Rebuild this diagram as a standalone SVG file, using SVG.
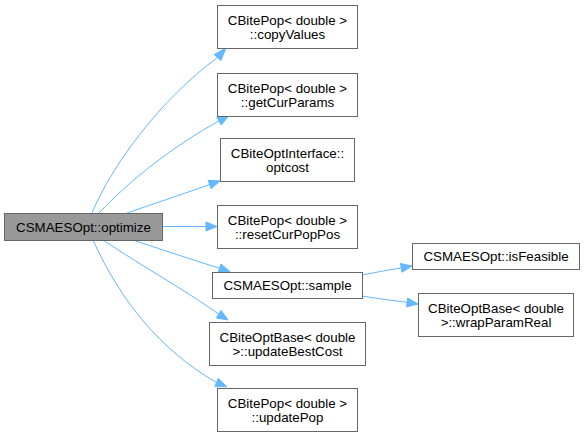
<svg xmlns="http://www.w3.org/2000/svg" width="585" height="437" viewBox="0 0 585 437">
<style>
.n rect{fill:#ffffff;stroke:#666666;stroke-width:1}
.n.main rect{fill:#999999}
text{font-family:"Liberation Sans",Arial,sans-serif;font-size:13.33px;fill:#000000;text-anchor:middle}
.e path{fill:none;stroke:#63b8ff;stroke-width:1}
.e polygon{fill:#63b8ff;stroke:#63b8ff;stroke-width:1}
</style>
<rect width="585" height="437" fill="#ffffff"/>
<g class="e" id="edges">
<path d="M92,213 C112,165 160,100 217.5,57.5"/>
<polygon points="226,48 214.2,54.5 220.9,60.5"/>
<path d="M99,213 C130,180 175,145 219,121"/>
<polygon points="229,115.5 216.8,117 221.2,125"/>
<path d="M127,213 C150,205 180,195 209.6,184.6"/>
<polygon points="220,181 208.1,180.3 211.1,188.8"/>
<path d="M162,226.5 L206,226.5"/>
<polygon points="217,226.5 206,222 206,231"/>
<path d="M133,240 C160,249 190,259 219.5,268.3"/>
<polygon points="230,271.7 220.9,264 218.1,272.6"/>
<path d="M103,240 C140,265 185,290 218.7,314.1"/>
<polygon points="228,320 221.1,310.3 216.3,317.9"/>
<path d="M93,240 C120,300 160,350 216.5,382.5"/>
<polygon points="226.7,386.7 218.2,378.3 214.8,386.7"/>
<path d="M362,275 C375,272.5 388,270 401.2,267.9"/>
<polygon points="412,266 400.4,263.5 402,272.3"/>
<path d="M362,296 C377,298.5 392,300.5 407.1,302.4"/>
<polygon points="418,304 407.7,298 406.5,306.9"/>
</g>
<g class="n main" id="optimize">
<rect x="4.5" y="213.5" width="158" height="27"/>
<text x="83.5" y="231.5">CSMAESOpt::optimize</text>
</g>
<g class="n" id="copyValues">
<rect x="217.5" y="5.5" width="140" height="43"/>
<text x="287.5" y="25">CBitePop&lt; double &gt;</text>
<text x="287.5" y="39">::copyValues</text>
</g>
<g class="n" id="getCurParams">
<rect x="217.5" y="73.5" width="140" height="43"/>
<text x="287.5" y="93">CBitePop&lt; double &gt;</text>
<text x="287.5" y="107">::getCurParams</text>
</g>
<g class="n" id="optcost">
<rect x="220.5" y="138.5" width="134" height="43"/>
<text x="287.5" y="158">CBiteOptInterface::</text>
<text x="287.5" y="172">optcost</text>
</g>
<g class="n" id="resetCurPopPos">
<rect x="217.5" y="205.5" width="140" height="43"/>
<text x="287.5" y="225">CBitePop&lt; double &gt;</text>
<text x="287.5" y="239">::resetCurPopPos</text>
</g>
<g class="n" id="sample">
<rect x="212.5" y="272.5" width="150" height="26"/>
<text x="287.5" y="290">CSMAESOpt::sample</text>
</g>
<g class="n" id="updateBestCost">
<rect x="209.5" y="322.5" width="156" height="43"/>
<text x="287.5" y="342">CBiteOptBase&lt; double</text>
<text x="287.5" y="356">&gt;::updateBestCost</text>
</g>
<g class="n" id="updatePop">
<rect x="217.5" y="388.5" width="140" height="43"/>
<text x="287.5" y="408">CBitePop&lt; double &gt;</text>
<text x="287.5" y="422">::updatePop</text>
</g>
<g class="n" id="isFeasible">
<rect x="412.5" y="243.5" width="167" height="26"/>
<text x="496" y="261">CSMAESOpt::isFeasible</text>
</g>
<g class="n" id="wrapParamReal">
<rect x="418.5" y="293.5" width="155" height="43"/>
<text x="496" y="313">CBiteOptBase&lt; double</text>
<text x="496" y="327">&gt;::wrapParamReal</text>
</g>
</svg>
